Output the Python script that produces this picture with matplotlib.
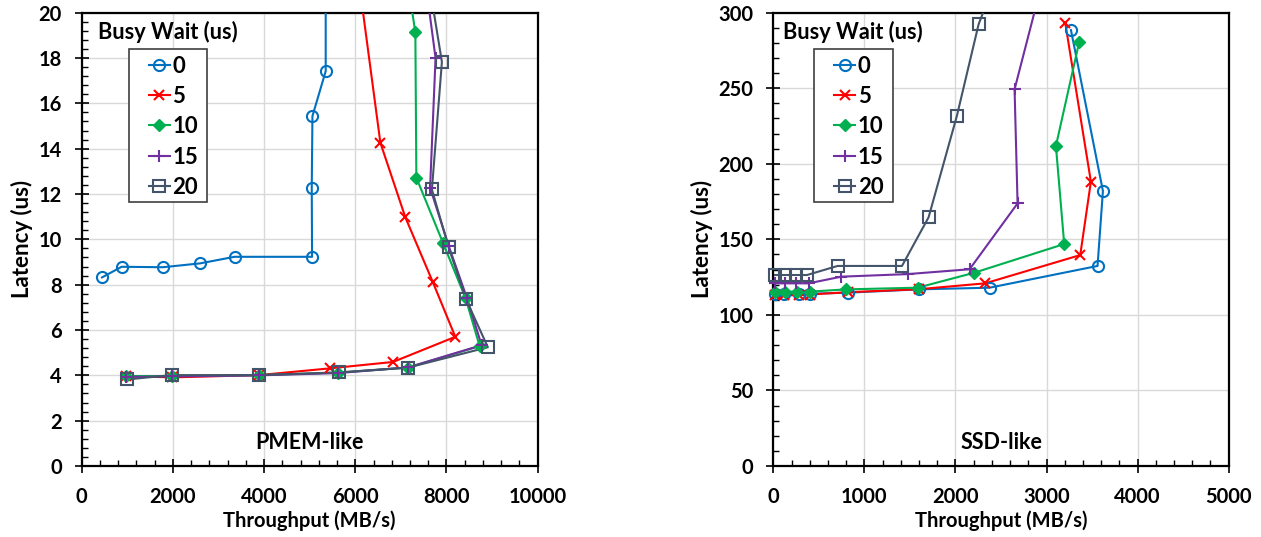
import matplotlib
matplotlib.use("Agg")
import matplotlib.pyplot as plt
from matplotlib.lines import Line2D
from matplotlib.patches import Rectangle
from matplotlib.ticker import MultipleLocator

plt.rcParams['font.family'] = ['Lato', 'DejaVu Sans']
plt.rcParams['font.weight'] = 'bold'

labels = ["0", "5", "10", "15", "20"]
colors = ["#0070C0", "#FF0000", "#00B050", "#7030A0", "#44546A"]

# PMEM-like: throughput (MB/s), latency (us)
pmem_x = [
    [445, 876, 1781, 2598, 3351, 5052, 5045, 5060, 5351, 5350],
    [977, 1971, 3884, 5454, 6826, 8193, 7703, 7098, 6550, 5840],
    [977, 1971, 3884, 5621, 7155, 8726, 8419, 7922, 7339, 7317, 6870],
    [977, 1971, 3884, 5621, 7155, 8770, 8450, 8050, 7640, 7760, 7300],
    [1000, 1971, 3884, 5636, 7155, 8907, 8430, 8046, 7680, 7899, 7320],
]
pmem_y = [
    [8.32, 8.79, 8.77, 8.94, 9.23, 9.23, 12.28, 15.44, 17.42, 25],
    [3.97, 3.91, 4.01, 4.31, 4.59, 5.70, 8.10, 10.97, 14.26, 25],
    [3.97, 3.97, 4.01, 4.12, 4.34, 5.29, 7.40, 9.85, 12.72, 19.13, 25],
    [3.93, 3.95, 4.00, 4.10, 4.35, 5.33, 7.40, 9.70, 12.28, 18.00, 25],
    [3.82, 4.01, 4.01, 4.13, 4.34, 5.24, 7.35, 9.65, 12.20, 17.83, 25],
]

# SSD-like
ssd_x = [
    [22, 121, 278, 399, 816, 1595, 2374, 3560, 3619, 3268],
    [22, 121, 278, 399, 816, 1595, 2327, 3370, 3487, 3205],
    [19, 129, 260, 399, 802, 1584, 2206, 3194, 3103, 3359],
    [19, 129, 250, 388, 747, 1474, 2155, 2682, 2649, 3080],
    [19, 129, 250, 370, 706, 1413, 1705, 2016, 2254, 2620],
]
ssd_y = [
    [114.0, 114.0, 114.0, 114.0, 114.7, 116.9, 118.0, 132.4, 182.0, 288.5],
    [113.0, 113.0, 113.0, 113.5, 115.0, 117.0, 120.9, 139.6, 188.2, 293.4],
    [115.4, 115.4, 115.4, 115.4, 116.9, 118.0, 127.9, 146.9, 211.8, 280.8],
    [120.9, 120.9, 120.9, 120.9, 125.3, 127.0, 130.2, 173.8, 249.3, 350],
    [126.4, 126.4, 126.4, 126.4, 132.4, 132.4, 164.6, 231.8, 292.3, 350],
]

markers = [
    dict(marker='o', markersize=8, markerfacecolor='none', markeredgewidth=1.5),
    dict(marker='x', markersize=7.5, markeredgewidth=1.5),
    dict(marker='D', markersize=6.5, markeredgewidth=1.0),
    dict(marker='+', markersize=8.5, markeredgewidth=1.5),
    dict(marker='s', markersize=8, markerfacecolor='none', markeredgewidth=1.5),
]

W, H = 1261, 537
fig = plt.figure(figsize=(W / 100, H / 100), dpi=100)
axL = fig.add_axes([81.7 / W, 1 - 466 / H, 456 / W, 453.3 / H])
axR = fig.add_axes([773.3 / W, 1 - 466 / H, 455.4 / W, 453.3 / H])


def draw(ax, xs, ys, xmax, ymax, xmaj, xmin, ymaj, ymin, note, box, legx, titx):
    for i in range(5):
        x, y = xs[i], ys[i]
        ax.plot(x, y, color=colors[i], lw=1.5, zorder=3 + i * 0.1)
        px = [a for a, b in zip(x, y) if b <= ymax]
        py = [b for b in y if b <= ymax]
        ax.plot(px, py, ls='none', color=colors[i], clip_on=False,
                zorder=4 + i * 0.1, **markers[i])
    ax.set_xlim(0, xmax)
    ax.set_ylim(0, ymax)
    ax.xaxis.set_major_locator(MultipleLocator(xmaj))
    ax.xaxis.set_minor_locator(MultipleLocator(xmin))
    ax.yaxis.set_major_locator(MultipleLocator(ymaj))
    ax.yaxis.set_minor_locator(MultipleLocator(ymin))
    ax.grid(True, which='major', color='#D9D9D9', lw=1.0, zorder=0)
    ax.set_axisbelow(True)
    for s in ax.spines.values():
        s.set_color('black')
        s.set_linewidth(1.6)
    ax.tick_params(which='major', direction='inout', length=10.5, width=1.2,
                   labelsize=14.5, colors='black')
    ax.tick_params(axis='x', which='major', pad=10)
    ax.tick_params(axis='y', which='major', pad=9)
    ax.tick_params(which='minor', direction='in', length=4, width=1.0)
    ax.tick_params(top=False, right=False, which='both')
    for t in ax.get_xticklabels() + ax.get_yticklabels():
        t.set_fontweight('bold')
    ax.set_xlabel('Throughput (MB/s)', fontsize=14.5, fontweight='bold', labelpad=2.5)
    ax.set_ylabel('Latency (us)', fontsize=16, fontweight='bold', labelpad=4)
    ax.text(0.5, 0.052, note, transform=ax.transAxes, ha='center', va='center',
            fontsize=15.5, fontweight='bold')
    ax.text(titx, 0.9566, 'Busy Wait (us)', transform=ax.transAxes, ha='left',
            va='center', fontsize=15.7, fontweight='bold')
    bx0, bx1, by0, by1 = box
    ax.add_patch(Rectangle((bx0, by0), bx1 - bx0, by1 - by0, transform=ax.transAxes,
                           facecolor='white', edgecolor='#404040', lw=1.2,
                           zorder=9, clip_on=False))
    handles = [Line2D([], [], color=colors[i], lw=1.5, **markers[i]) for i in range(5)]
    leg = ax.legend(handles, labels, loc='upper left', bbox_to_anchor=(legx, 0.9054),
                    borderaxespad=0, borderpad=0, frameon=False,
                    handlelength=0.95, handletextpad=0.12,
                    labelspacing=0.42, prop=dict(size=16, weight='bold'))
    leg.set_zorder(10)


draw(axL, pmem_x, pmem_y, 10000, 20, 2000, 400, 2, 0.4, 'PMEM-like',
     (0.1037, 0.274, 0.583, 0.9206), 0.1469, 0.0364)
draw(axR, ssd_x, ssd_y, 5000, 300, 1000, 200, 50, 10, 'SSD-like',
     (0.0894, 0.2637, 0.583, 0.9199), 0.1333, 0.022)

fig.savefig('out.png', dpi=100)
